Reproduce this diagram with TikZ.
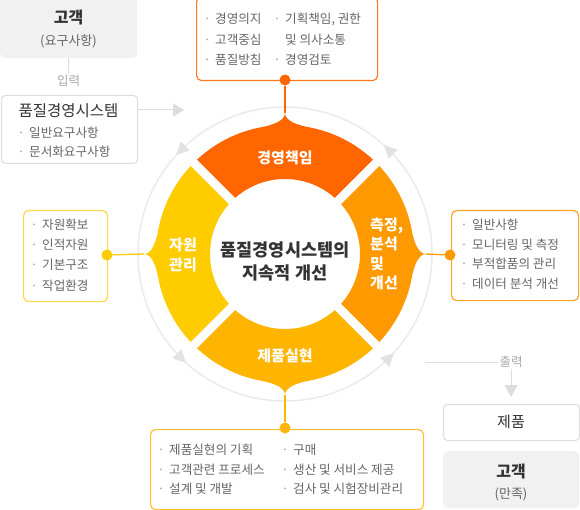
\documentclass[tikz,border=0pt]{standalone}
\usepackage{fontspec}
\setmainfont{Noto Sans CJK KR}
\usetikzlibrary{arrows.meta}
\definecolor{segT}{HTML}{FF6600}
\definecolor{segR}{HTML}{FF9900}
\definecolor{segB}{HTML}{FFB400}
\definecolor{segL}{HTML}{FFCC00}
\definecolor{bdT}{HTML}{FF7A1F}
\definecolor{bdR}{HTML}{FFA522}
\definecolor{bdB}{HTML}{FFC22E}
\definecolor{bdL}{HTML}{FFD84A}
\definecolor{txt}{HTML}{666666}
\definecolor{bulc}{HTML}{9A9A9A}
\definecolor{dark}{HTML}{333333}
\definecolor{boxgray}{HTML}{F1F1F1}
\definecolor{linegray}{HTML}{DDDDDD}
\definecolor{lblgray}{HTML}{AAAAAA}
\definecolor{ringc}{HTML}{EBEBEB}
\definecolor{arrc}{HTML}{E2E2E2}
\newcommand\qseg[2]{\fill[#2] (#1-41.56:75pt) -- (#1-43:129pt)
  arc[start angle=#1-43, end angle=#1-10, radius=129pt]
  .. controls (#1-5.6:129.6pt) and (#1:133pt) .. (#1:141pt)
  .. controls (#1:133pt) and (#1+5.6:129.6pt) .. (#1+10:129pt)
  arc[start angle=#1+10, end angle=#1+43, radius=129pt]
  -- (#1+41.56:75pt)
  arc[start angle=#1+41.56, end angle=#1-41.56, radius=75pt] -- cycle;}
\newcommand\qarr[1]{\fill[arrc, shift={(#1:147pt)}, rotate=#1+90] (7,0) -- (-6,6.5) -- (-6,-6.5) -- cycle;}
\newcommand\qitem[4]{\node[itm] (#1) at (#2,-#3) {\llap{\textcolor{bulc}{·}\hspace{4.5pt}}#4};}
\begin{document}
\begin{tikzpicture}[x=1pt,y=1pt,
  itm/.style={anchor=west, inner sep=0pt, font=\fontsize{12.6}{14}\selectfont, text=txt, text height=10.5pt, text depth=1pt},
  seglbl/.style={text=white, font=\bfseries\fontsize{15}{19.5}\selectfont, inner sep=0pt},
  cbox/.style={draw=#1, line width=1.2pt, rounded corners=5pt, fill=white, anchor=north west, inner sep=0pt},
  qdot/.style={circle, fill=#1, minimum size=11pt, inner sep=0pt},
  qconn/.style={draw=#1, line width=1.3pt},
  gbox/.style={fill=boxgray, rounded corners=5pt, anchor=north west, inner sep=0pt},
  wbox/.style={draw=linegray, line width=1pt, fill=white, rounded corners=4pt, anchor=north west, inner sep=0pt},
  ttl/.style={font=\bfseries\fontsize{16}{18}\selectfont, text=dark},
  sub/.style={font=\fontsize{13}{15}\selectfont, text=txt},
  glbl/.style={font=\fontsize{12.5}{14}\selectfont, text=lblgray, inner sep=1.5pt},
  gline/.style={draw=linegray, line width=1pt}
]
\useasboundingbox (0,0) rectangle (580,-510);
\fill[white] (0,0) rectangle (580,-510);
\clip (0,0) rectangle (580,-510);

% ring
\begin{scope}[shift={(285,-254)}]
  \draw[ringc, line width=1.5pt] (0,0) circle[radius=147pt];
  \qarr{45}\qarr{135}\qarr{225}\qarr{315}
  \qseg{90}{segT}
  \qseg{0}{segR}
  \qseg{270}{segB}
  \qseg{180}{segL}
  \coordinate (pkT) at (90:141pt);
  \coordinate (pkR) at (0:141pt);
  \coordinate (pkB) at (270:141pt);
  \coordinate (pkL) at (180:141pt);
\end{scope}

\node[seglbl] (sT) at (285,-158) {경영책임};
\node[seglbl] (sB) at (285,-356) {제품실현};
\node[seglbl, align=center, font=\bfseries\fontsize{15}{20}\selectfont] (sL) at (183,-255) {자원\\관리};
\node[seglbl, align=left, anchor=west] (sR) at (370,-254) {측정,\\분석\\및\\개선};
\node[font=\bfseries\fontsize{17.5}{23}\selectfont, text=dark, align=center] (ctr) at (285,-261) {품질경영시스템의\\지속적 개선};

% callout boxes
\node[cbox=bdT, minimum width=181pt, minimum height=84pt] (boxT) at (196,4) {};
\node[cbox=bdR, minimum width=127pt, minimum height=90pt] (boxR) at (451,-210) {};
\node[cbox=bdL, minimum width=84pt, minimum height=91pt] (boxL) at (23,-210) {};
\node[cbox=bdB, minimum width=273pt, minimum height=80pt] (boxB) at (150,-429) {};

\node[qdot=segT] (dotT) at (285,-80) {};
\node[qdot=segR] (dotR) at (450,-255) {};
\node[qdot=segL] (dotL) at (107,-255) {};
\node[qdot=segB] (dotB) at (285,-428) {};
\draw[qconn=segT] (dotT) -- (pkT);
\draw[qconn=segR] (dotR) -- (pkR);
\draw[qconn=segL] (dotL) -- (pkL);
\draw[qconn=segB] (dotB) -- (pkB);

% top items
\qitem{t1}{215}{19}{경영의지}
\qitem{t2}{215}{40}{고객중심}
\qitem{t3}{215}{60}{품질방침}
\qitem{t4}{285}{19}{기획책임, 권한}
\node[itm] (t5) at (285,-40) {및 의사소통};
\qitem{t6}{285}{60}{경영검토}
% right items
\qitem{r1}{472}{225}{일반사항}
\qitem{r2}{472}{245}{모니터링 및 측정}
\qitem{r3}{472}{264}{부적합품의 관리}
\qitem{r4}{472}{284}{데이터 분석 개선}
% left items
\qitem{l1}{42}{225}{자원확보}
\qitem{l2}{42}{245}{인적자원}
\qitem{l3}{42}{265}{기본구조}
\qitem{l4}{42}{286}{작업환경}
% bottom items
\qitem{b1}{169}{450}{제품실현의 기획}
\qitem{b2}{169}{470}{고객관련 프로세스}
\qitem{b3}{169}{489}{설계 및 개발}
\qitem{b4}{293}{450}{구매}
\qitem{b5}{293}{470}{생산 및 서비스 제공}
\qitem{b6}{293}{489}{검사 및 시험장비관리}

% upper left: input
\node[gbox, minimum width=137pt, minimum height=63pt] (cust1) at (0,5) {};
\node[ttl] (cust1t) at (68.5,-18) {고객};
\node[sub] (cust1s) at (68.5,-41) {(요구사항)};
\node[glbl] (inlbl) at (68.5,-81) {입력};
\draw[gline] (cust1.south) -- (inlbl.north);
\node[wbox, minimum width=136pt, minimum height=68pt] (qms) at (1,-95) {};
\node[font=\fontsize{15.5}{17}\selectfont, text=dark] (qmst) at (68.5,-111) {품질경영시스템};
\qitem{q1}{29}{133}{일반요구사항}
\qitem{q2}{29}{152}{문서화요구사항}
\coordinate (inarr) at (184,-110);
\draw[gline, -{Triangle[length=11pt,width=13pt]}] (qms.east |- inarr) -- (inarr);

% lower right: output
\coordinate (outs) at (425,-362);
\node[glbl] (outlbl) at (511,-362) {출력};
\coordinate (outtip) at (511,-397);
\draw[gline] (outs) -- (outlbl.west);
\draw[gline, -{Triangle[length=12pt,width=13pt]}] (outlbl.south) -- (outtip);
\node[wbox, minimum width=136pt, minimum height=36pt] (prod) at (443,-404) {};
\node[font=\fontsize{15}{17}\selectfont, text=dark] (prodt) at (511,-422) {제품};
\node[gbox, minimum width=136pt, minimum height=57pt] (cust2) at (443,-451) {};
\node[ttl] (cust2t) at (511,-472) {고객};
\node[sub] (cust2s) at (511,-494) {(만족)};
\end{tikzpicture}
\end{document}
